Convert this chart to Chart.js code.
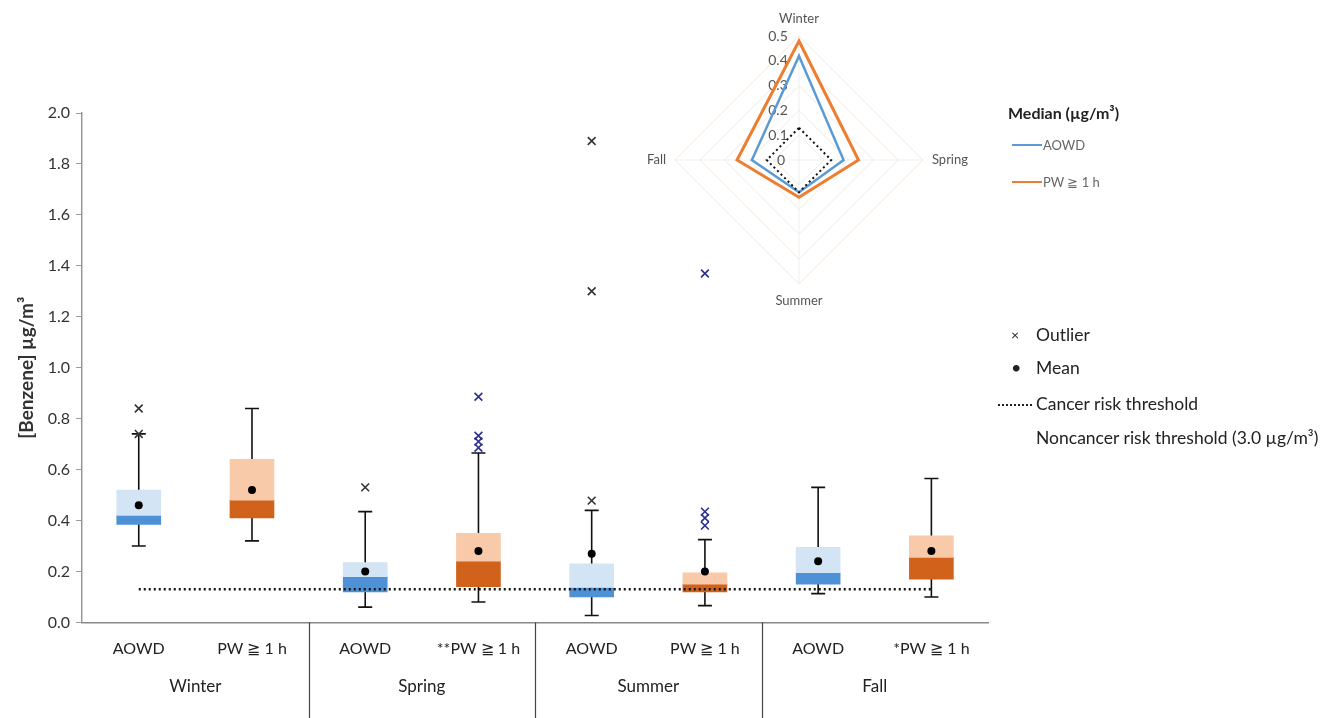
<!DOCTYPE html>
<html>
<head>
<meta charset="utf-8">
<script src="https://cdn.jsdelivr.net/npm/chart.js@4/dist/chart.umd.min.js"></script>
<style>
  html,body{margin:0;padding:0;background:#fff;overflow:hidden;}
  body{width:1330px;height:718px;position:relative;font-family:Lato,"Open Sans",sans-serif;}
  #boxWrap{position:absolute;left:0;top:0;width:1330px;height:718px;}
  #radarWrap{position:absolute;left:628px;top:0;width:360px;height:322px;}
  .lg{position:absolute;white-space:nowrap;color:#222;font-size:17.5px;line-height:20px;}
  .lg.small{font-size:13px;color:#666;}
  .ln{position:absolute;height:0;}
</style>
</head>
<body>
<div id="boxWrap"><canvas id="boxChart" width="1330" height="718"></canvas></div>
<div id="radarWrap"><canvas id="radarChart" width="360" height="322"></canvas></div>

<div class="lg" style="left:1008px;top:103px;font-weight:bold;font-size:16px;">Median (µg/m³)</div>
<div class="ln" style="left:1012px;top:144px;width:30px;border-top:2px solid #5B9BD5;"></div>
<div class="lg small" style="left:1043px;top:135px;">AOWD</div>
<div class="ln" style="left:1012px;top:181px;width:30px;border-top:2px solid #ED7D31;"></div>
<div class="lg small" style="left:1043px;top:172px;">PW ≧ 1 h</div>

<div class="lg" style="left:1011px;top:325px;font-size:14px;">×</div>
<div class="lg" style="left:1036px;top:325px;">Outlier</div>
<div class="lg" style="left:1011px;top:357px;font-size:18px;">•</div>
<div class="lg" style="left:1036px;top:358px;">Mean</div>
<div class="ln" style="left:998px;top:404px;width:34px;border-top:2px dotted #222;"></div>
<div class="lg" style="left:1036px;top:394px;">Cancer risk threshold</div>
<div class="lg" style="left:1036px;top:428px;">Noncancer risk threshold (3.0 µg/m³)</div>

<script>
// box plot data, one entry per group
const keys = ["WA","WP","SpA","SpP","SuA","SuP","FA","FP"];
const tickText = ["AOWD","PW ≧ 1 h","AOWD","**PW ≧ 1 h","AOWD","PW ≧ 1 h","AOWD","*PW ≧ 1 h"];
const seasons = ["Winter","Spring","Summer","Fall"];

const q1       = [0.385, 0.41, 0.12, 0.14, 0.10, 0.12, 0.15, 0.17];
const medians  = [0.42, 0.48, 0.18, 0.24, 0.137, 0.15, 0.195, 0.255];
const q3       = [0.52, 0.64, 0.235, 0.35, 0.23, 0.195, 0.295, 0.34];
const whiskLo  = [0.30, 0.32, 0.06, 0.08, 0.027, 0.066, 0.113, 0.10];
const whiskHi  = [0.74, 0.84, 0.435, 0.665, 0.44, 0.325, 0.53, 0.565];
const means    = [0.46, 0.52, 0.20, 0.28, 0.27, 0.20, 0.24, 0.28];

const outlierKey = ["WA","WA","SpA","SpP","SpP","SpP","SpP","SuA","SuA","SuA","SuP","SuP","SuP","SuP"];
const outlierVal = [0.84,0.74,0.53,0.886,0.733,0.71,0.686,1.89,1.30,0.478,1.37,0.435,0.41,0.38];

const cancerThreshold = 0.13;

// radar: medians by season
const radarAOWD = [0.42, 0.18, 0.13, 0.19];
const radarPW   = [0.48, 0.24, 0.15, 0.25];
const radarThr  = [0.13, 0.13, 0.13, 0.13];

const blueDark="#4E91D6", blueLight="#D3E4F4", orangeDark="#D0621C", orangeLight="#F8CAAA";
const isPW = i => i%2===1;

const whiskerPlugin = {
  id:"whiskers",
  beforeDatasetsDraw(chart){
    const {ctx, scales:{x,y}} = chart;
    ctx.save();
    ctx.strokeStyle="#111"; ctx.lineWidth=1.6;
    keys.forEach((k,i)=>{
      const px=x.getPixelForValue(i);
      const lo=y.getPixelForValue(whiskLo[i]), hi=y.getPixelForValue(whiskHi[i]);
      ctx.beginPath();
      ctx.moveTo(px,lo); ctx.lineTo(px,hi);
      ctx.moveTo(px-7,lo); ctx.lineTo(px+7,lo);
      ctx.moveTo(px-7,hi); ctx.lineTo(px+7,hi);
      ctx.stroke();
    });
    ctx.restore();
  },
  afterDraw(chart){
    const {ctx, scales:{x}, chartArea} = chart;
    ctx.save();
    ctx.strokeStyle="#444"; ctx.lineWidth=1.2;
    [1,3,5].forEach(i=>{
      const px=Math.round((x.getPixelForValue(i)+x.getPixelForValue(i+1))/2)+0.5;
      ctx.beginPath(); ctx.moveTo(px,chartArea.bottom); ctx.lineTo(px,chart.height); ctx.stroke();
    });
    ctx.restore();
  }
};

new Chart(document.getElementById("boxChart"),{
  type:"bar",
  data:{
    labels:keys,
    datasets:[
      {type:"line",label:"Mean",data:means,showLine:false,pointRadius:4,pointHoverRadius:4,
       pointBackgroundColor:"#000",pointBorderColor:"#000",pointBorderWidth:0},
      {type:"line",label:"Outlier",data:outlierKey.map((k,i)=>({x:k,y:outlierVal[i]})),showLine:false,
       pointStyle:"crossRot",pointRadius:5.5,pointBorderWidth:1.6,
       pointBorderColor:outlierKey.map(k=>keys.indexOf(k)%2? "#2B2F8F":"#333")},
      {type:"line",label:"Cancer risk threshold",data:keys.map(()=>cancerThreshold),
       borderColor:"#111",borderWidth:2.5,borderDash:[2,3],pointRadius:0,fill:false},
      {label:"Q3",data:keys.map((k,i)=>[medians[i],q3[i]]),
       backgroundColor:keys.map((k,i)=>isPW(i)?orangeLight:blueLight),barThickness:44,grouped:false},
      {label:"Q1",data:keys.map((k,i)=>[q1[i],medians[i]]),
       backgroundColor:keys.map((k,i)=>isPW(i)?orangeDark:blueDark),barThickness:44,grouped:false}
    ]
  },
  options:{
    responsive:false,animation:false,
    layout:{padding:{left:15,top:113,right:342,bottom:20}},
    plugins:{legend:{display:false},tooltip:{enabled:false}},
    scales:{
      x:{type:"category",labels:keys,offset:true,
         grid:{display:false},border:{color:"#888",width:1.5},
         ticks:{callback:(v,i)=>tickText[i],font:{family:"Lato",size:16},color:"#222",padding:9,maxRotation:0,autoSkip:false}},
      x2:{type:"category",axis:"x",position:"bottom",labels:seasons,offset:true,
          grid:{display:false},border:{display:false},
          ticks:{font:{family:"Lato",size:17},color:"#222",padding:1}},
      y:{min:0,max:2,
         ticks:{stepSize:0.2,callback:v=>v.toFixed(1),font:{family:"Lato",size:16},color:"#333",padding:6},
         grid:{drawOnChartArea:false,tickLength:6,color:"#999"},border:{color:"#999",width:1.5},
         title:{display:true,text:"[Benzene] µg/m³",font:{family:"Lato",size:19,weight:"bold"},color:"#333",padding:{top:0,bottom:4}}}
    }
  },
  plugins:[whiskerPlugin]
});

const radarZero = {
  id:"radarZero",
  afterDraw(chart){
    const r=chart.scales.r, ctx=chart.ctx;
    ctx.save();
    ctx.font="14px Lato"; ctx.fillStyle="#555"; ctx.textAlign="center"; ctx.textBaseline="middle";
    ctx.fillText("0", r.xCenter-18, r.yCenter);
    ctx.restore();
  }
};

new Chart(document.getElementById("radarChart"),{
  type:"radar",
  data:{
    labels:seasons,
    datasets:[
      {label:"Cancer risk threshold",data:radarThr,borderColor:"#111",borderWidth:2,borderDash:[2,3],pointRadius:0,fill:false},
      {label:"AOWD",data:radarAOWD,borderColor:"#5B9BD5",borderWidth:2.5,pointRadius:0,fill:false},
      {label:"PW ≧ 1 h",data:radarPW,borderColor:"#ED7D31",borderWidth:3,pointRadius:0,fill:false}
    ]
  },
  options:{
    responsive:false,animation:false,
    layout:{padding:11},
    plugins:{legend:{display:false},tooltip:{enabled:false}},
    scales:{
      r:{min:0,max:0.5,
         ticks:{stepSize:0.1,showLabelBackdrop:false,color:"#555",font:{family:"Lato",size:14},
                callback:v=>(v===0?"0":v.toFixed(1))+"\u2003\u2003\u2003\u2003"},
         grid:{color:"rgba(235,205,185,0.45)"},
         angleLines:{color:"rgba(225,225,225,0.5)"},
         pointLabels:{color:"#555",font:{family:"Lato",size:13},padding:0}}
    }
  },
  plugins:[radarZero]
});
</script>
</body>
</html>
